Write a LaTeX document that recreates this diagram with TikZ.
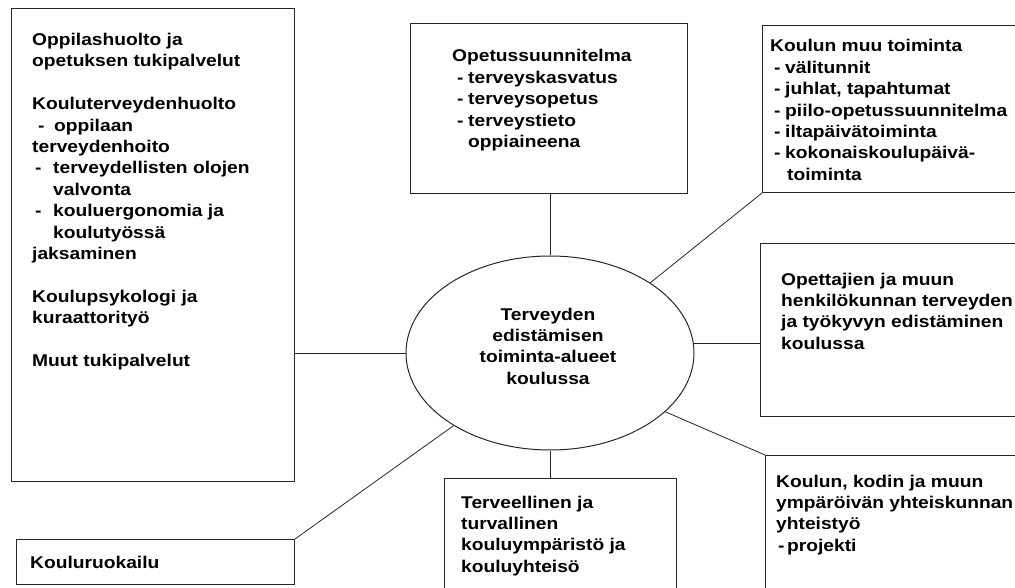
\documentclass[tikz,border=0pt]{standalone}
\usepackage{fontspec}
\setmainfont{Liberation Sans}[FakeStretch=1.13]
\usetikzlibrary{shapes.geometric}

% first-line-baseline text block, left or centred
\newcommand\tlines[1]{\begin{tabular}[t]{@{}l@{}}#1\end{tabular}}
\newcommand\clines[1]{\begin{tabular}[t]{@{}c@{}}#1\end{tabular}}
% dash item: dash, then the text a given distance further right
\newcommand\dl[2]{\makebox[#1][l]{-}#2}

\begin{document}
\begin{tikzpicture}[x=1pt,y=-1pt,
  box/.style={draw=black!85,line width=1pt,rectangle,inner sep=0pt},
  link/.style={draw=black!85,line width=0.8pt},
  txt/.style={anchor=base west,inner sep=0pt,
    font=\fontsize{17}{21.4}\selectfont\bfseries}]
\useasboundingbox (0,0) rectangle (1015,588);
\clip (0,0) rectangle (1015,588);

% boxes
\node[box,anchor=north west,minimum width=283pt,minimum height=473pt] (lb) at (11,8) {};
\node[box,anchor=north west,minimum width=278pt,minimum height=45pt] (ruoka) at (16,539) {};
\node[box,anchor=north west,minimum width=277pt,minimum height=170pt] (ops) at (410,23) {};
\node[box,anchor=north west,minimum width=270pt,minimum height=167pt] (muu) at (762,25) {};
\node[box,anchor=north west,minimum width=270pt,minimum height=173pt] (opet) at (760,243) {};
\node[box,anchor=north west,minimum width=270pt,minimum height=150pt] (kodin) at (765,455) {};
\node[box,anchor=north west,minimum width=232pt,minimum height=130pt] (terv) at (444,478) {};

% central ellipse
\node[box,ellipse,minimum width=288pt,minimum height=194pt] (ell) at (550,353) {};

% connectors
\draw[link] (ell.west) -- (ell.west -| lb.east);
\draw[link] (ell.north) -- (ell.north |- ops.south);
\draw[link] (ell.35) -- (muu.south west);
\draw[link] (ell.4) -- (ell.4 -| opet.west);
\draw[link] (ell.-27) -- (kodin.north west);
\draw[link] (ell.south) -- (ell.south |- terv.north);
\draw[link] (ell.-143) -- (ruoka.north east);

% texts
\node[txt] (tlb) at (32,45.5) {\tlines{%
Oppilashuolto ja\\
opetuksen tukipalvelut\\
\\
Kouluterveydenhuolto\\
\hspace*{6pt}\dl{16pt}{oppilaan}\\
terveydenhoito\\
\hspace*{3pt}\dl{18pt}{terveydellisten olojen}\\
\hspace*{21pt}valvonta\\
\hspace*{3pt}\dl{18pt}{kouluergonomia ja}\\
\hspace*{21pt}koulutyössä\\
jaksaminen\\
\\
Koulupsykologi ja\\
kuraattorityö\\
\\
Muut tukipalvelut}};

\node[txt] (tops) at (452,62) {\tlines{%
Opetussuunnitelma\\
\hspace*{5pt}\dl{11pt}{terveyskasvatus}\\
\hspace*{5pt}\dl{11pt}{terveysopetus}\\
\hspace*{5pt}\dl{11pt}{terveystieto}\\
\hspace*{16pt}oppiaineena}};

\node[txt] (tmuu) at (770,52) {\tlines{%
Koulun muu toiminta\\
\hspace*{4pt}\dl{11pt}{välitunnit}\\
\hspace*{4pt}\dl{11pt}{juhlat, tapahtumat}\\
\hspace*{4pt}\dl{11pt}{piilo-opetussuunnitelma}\\
\hspace*{4pt}\dl{11pt}{iltapäivätoiminta}\\
\hspace*{4pt}\dl{11pt}{kokonaiskoulupäivä-}\\
\hspace*{17pt}toiminta}};

\node[txt] (topet) at (781,285) {\tlines{%
Opettajien ja muun\\
henkilökunnan terveyden\\
ja työkyvyn edistäminen\\
koulussa}};

\node[txt] (tkodin) at (776,487) {\tlines{%
Koulun, kodin ja muun\\
ympäröivän yhteiskunnan\\
yhteistyö\\
\hspace*{2pt}\dl{9pt}{projekti}}};

\node[txt] (tterv) at (461,508) {\tlines{%
Terveellinen ja\\
turvallinen\\
kouluympäristö ja\\
kouluyhteisö}};

\node[txt] (truoka) at (30,568) {Kouluruokailu};

\node[txt,anchor=base] (tell) at (548,320) {\clines{%
Terveyden\\
edistämisen\\
toiminta-alueet\\
koulussa}};
\end{tikzpicture}
\end{document}
